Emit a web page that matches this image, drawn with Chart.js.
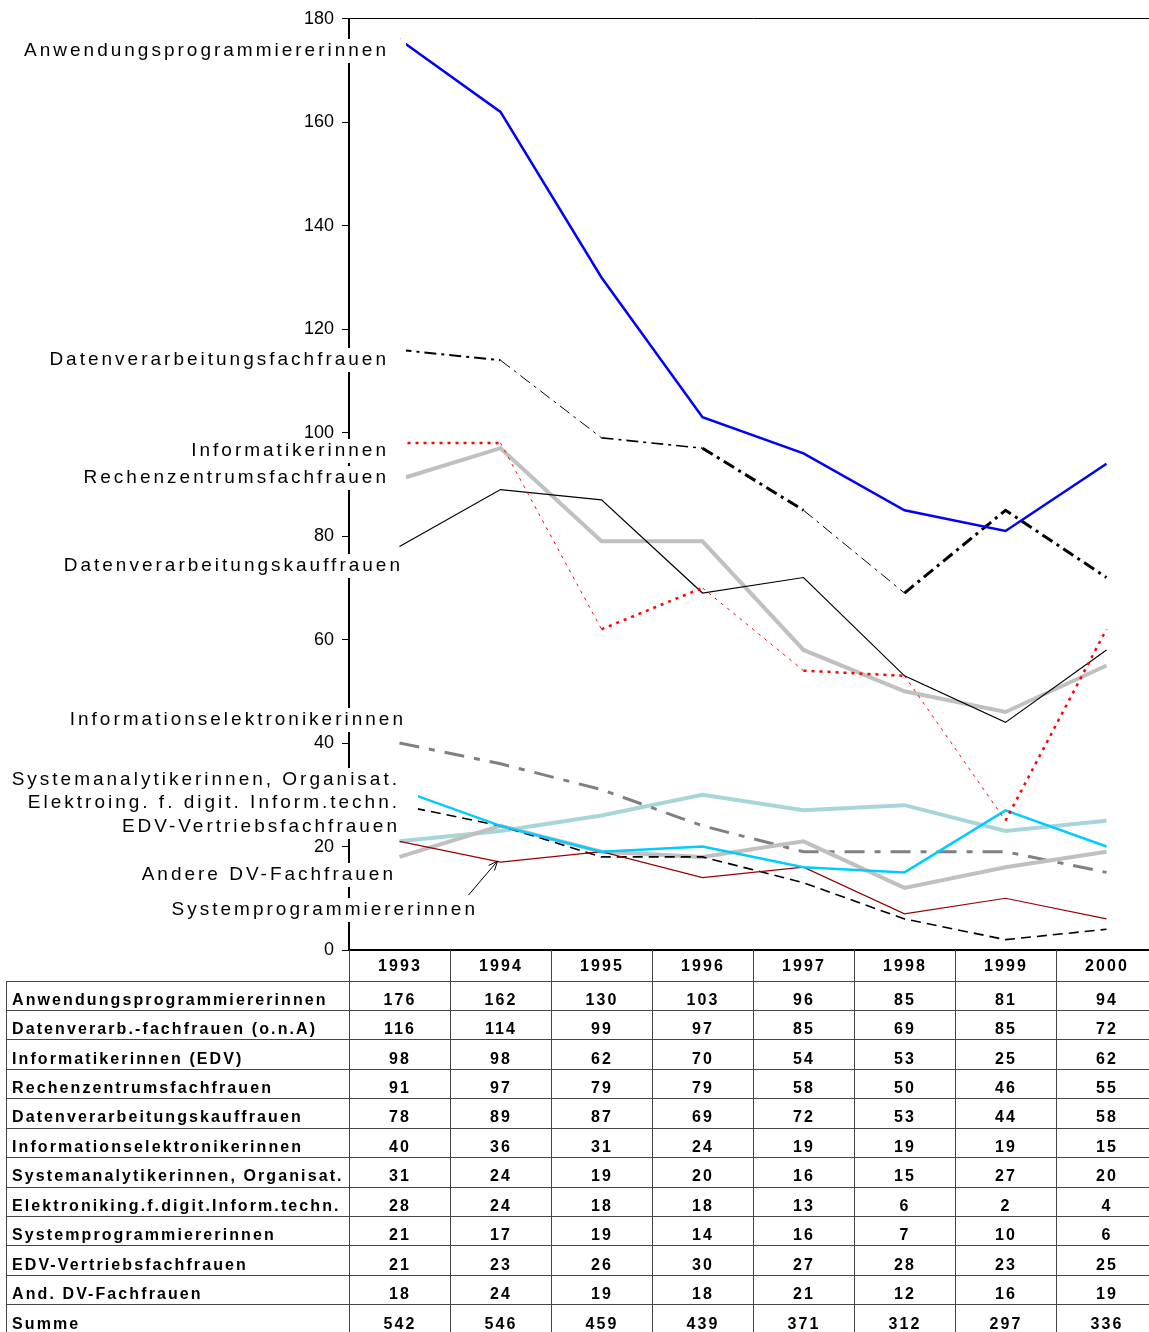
<!DOCTYPE html>
<html lang="de">
<head>
<meta charset="utf-8">
<title>DV-Berufe: Frauen 1993-2000</title>
<script src="https://cdn.jsdelivr.net/npm/chart.js@4.4.1/dist/chart.umd.min.js"></script>
<style>
html, body { margin: 0; padding: 0; background: #fff; width: 1149px; height: 1332px; overflow: hidden; }
#wrap { position: relative; width: 1149px; height: 1332px; overflow: hidden; }
#grafik { position: absolute; left: 0; top: 0; }
.kasten { position: absolute; background: #fff; z-index: 1; }
.text { position: absolute; z-index: 2; font-family: 'Liberation Sans', Arial, sans-serif; font-size: 19px; letter-spacing: 3px; line-height: 24px; white-space: nowrap; color: #000; text-align: right; }
#tabelle { position: absolute; left: 6px; top: 950px; z-index: 3; border-collapse: collapse; table-layout: fixed; width: 1151px;
  font-family: 'Liberation Sans', Arial, sans-serif; font-weight: bold; font-size: 16px; letter-spacing: 2.1px; color: #000; }
#tabelle td { border: 1px solid #444; padding: 8px 0 0 0; text-align: center; line-height: 20px; white-space: nowrap; }
#tabelle td.name { text-align: left; padding-left: 5px; }
#tabelle tr { height: 29.45px; }
#tabelle tr.kopf { height: 31px; }
#tabelle tr.kopf td { border-top: hidden; padding-top: 2px; }
#tabelle tr.kopf td.leer { border-left: hidden; }
</style>
</head>
<body>
<div id="wrap">
  <canvas id="grafik" width="1157" height="980"></canvas>
  <table id="tabelle"></table>
</div>
<script>
const jahre = ['1993', '1994', '1995', '1996', '1997', '1998', '1999', '2000'];

const anwendungsprog    = [176, 162, 130, 103, 96, 85, 81, 94];
const dvFachfrauen      = [116, 114, 99, 97, 85, 69, 85, 72];
const informatikerinnen = [98, 98, 62, 70, 54, 53, 25, 62];
const rechenzentrum     = [91, 97, 79, 79, 58, 50, 46, 55];
const dvKauffrauen      = [78, 89, 87, 69, 72, 53, 44, 58];
const infoElektronik    = [40, 36, 31, 24, 19, 19, 19, 15];
const systemanalytik    = [31, 24, 19, 20, 16, 15, 27, 20];
const elektroIng        = [28, 24, 18, 18, 13, 6, 2, 4];
const systemprog        = [21, 17, 19, 14, 16, 7, 10, 6];
const edvVertrieb       = [21, 23, 26, 30, 27, 28, 23, 25];
const andereDV          = [18, 24, 19, 18, 21, 12, 16, 19];
const summe             = [542, 546, 459, 439, 371, 312, 297, 336];

// Beschriftungen im Diagramm
const kurvenNamen = [
  'Anwendungsprogrammiererinnen',
  'Datenverarbeitungsfachfrauen',
  'Informatikerinnen',
  'Rechenzentrumsfachfrauen',
  'Datenverarbeitungskauffrauen',
  'Informationselektronikerinnen',
  'Systemanalytikerinnen, Organisat.',
  'Elektroing. f. digit. Inform.techn.',
  'Andere DV-Fachfrauen',
  'EDV-Vertriebsfachfrauen',
  'Systemprogrammiererinnen'
];

// Zeilen der Tabelle
const tabellenNamen = [
  'Anwendungsprogrammiererinnen',
  'Datenverarb.-fachfrauen (o.n.A)',
  'Informatikerinnen (EDV)',
  'Rechenzentrumsfachfrauen',
  'Datenverarbeitungskauffrauen',
  'Informationselektronikerinnen',
  'Systemanalytikerinnen, Organisat.',
  'Elektroniking.f.digit.Inform.techn.',
  'Systemprogrammiererinnen',
  'EDV-Vertriebsfachfrauen',
  'And. DV-Fachfrauen',
  'Summe'
];
const tabellenWerte = [anwendungsprog, dvFachfrauen, informatikerinnen, rechenzentrum, dvKauffrauen,
  infoElektronik, systemanalytik, elektroIng, systemprog, edvVertrieb, andereDV, summe];

// Kurven in Zeichenreihenfolge (erste liegt oben)
const kurven = [
  { name: kurvenNamen[0],  daten: anwendungsprog,    farbe: '#0000ff', breite: 2.5, strich: [] },
  { name: kurvenNamen[1],  daten: dvFachfrauen,      farbe: '#000000', breite: 2,   strich: [12, 5, 3, 5], seg: [2, 1, 1.6, 3, 1, 3, 3] },
  { name: kurvenNamen[2],  daten: informatikerinnen, farbe: '#ff0000', breite: 2,   strich: [3, 5], seg: [2.5, 1, 2.5, 1, 2.5, 1, 2.5] },
  { name: kurvenNamen[6],  daten: systemanalytik,    farbe: '#00ccff', breite: 2.5, strich: [] },
  { name: kurvenNamen[4],  daten: dvKauffrauen,      farbe: '#000000', breite: 1.2, strich: [] },
  { name: kurvenNamen[10], daten: systemprog,        farbe: '#990000', breite: 1.2, strich: [] },
  { name: kurvenNamen[7],  daten: elektroIng,        farbe: '#000000', breite: 1.6, strich: [10, 6] },
  { name: kurvenNamen[3],  daten: rechenzentrum,     farbe: '#c0c0c0', breite: 4,   strich: [] },
  { name: kurvenNamen[8],  daten: andereDV,          farbe: '#c0c0c0', breite: 4,   strich: [] },
  { name: kurvenNamen[5],  daten: infoElektronik,    farbe: '#808080', breite: 3,   strich: [20, 10, 6, 10] },
  { name: kurvenNamen[9],  daten: edvVertrieb,       farbe: '#a8d6d8', breite: 4,   strich: [] }
];

// Lage der Beschriftungen: Mitte (y), rechter Textrand, rechter Rand des weissen Kastens
const beschriftungLage = [
  [50, 386, 406], [359, 386, 406], [450, 386, 406], [477, 386, 406], [565, 400, 403],
  [719, 403, 406], [779, 397, 418], [802, 397, 418], [874, 393, 397], [826, 397, 400], [909, 475, 478]
];

const wrap = document.getElementById('wrap');
kurvenNamen.forEach((n, i) => {
  const [mitte, textRechts, kastenRechts] = beschriftungLage[i];
  const t = document.createElement('div');
  t.className = 'text';
  t.textContent = n;
  t.style.top = (mitte - 12) + 'px';
  t.style.right = (1149 - textRechts - 3) + 'px';
  wrap.appendChild(t);
  const k = document.createElement('div');
  k.className = 'kasten';
  wrap.appendChild(k);
  const links = textRechts + 3 - t.offsetWidth - 4;
  k.style.top = (mitte - 11) + 'px';
  k.style.height = '24px';
  k.style.left = links + 'px';
  k.style.width = (kastenRechts - links) + 'px';
});

// Tabelle
let zeilen = '<colgroup><col style="width:343px">' + jahre.map(() => '<col style="width:101px">').join('') + '</colgroup>';
zeilen += '<tr class="kopf"><td class="leer"></td>' + jahre.map(j => `<td>${j}</td>`).join('') + '</tr>';
tabellenNamen.forEach((n, i) => {
  zeilen += `<tr><td class="name">${n}</td>` + tabellenWerte[i].map(v => `<td>${v}</td>`).join('') + '</tr>';
});
document.getElementById('tabelle').innerHTML = zeilen;

const pfeil = {
  id: 'pfeil',
  afterDatasetsDraw(chart) {
    const idx = kurven.findIndex(k => k.name === 'Systemprogrammiererinnen');
    const p = chart.getDatasetMeta(idx).data[1];
    const ctx = chart.ctx;
    const sx = p.x - 3, sy = p.y - 1;
    const ax = sx - 29, ay = sy + 34;
    const winkel = Math.atan2(sy - ay, sx - ax);
    ctx.save();
    ctx.strokeStyle = '#000';
    ctx.lineWidth = 1;
    ctx.beginPath();
    ctx.moveTo(ax, ay);
    ctx.lineTo(sx, sy);
    ctx.moveTo(sx - 10 * Math.cos(winkel - 0.4), sy - 10 * Math.sin(winkel - 0.4));
    ctx.lineTo(sx, sy);
    ctx.lineTo(sx - 10 * Math.cos(winkel + 0.4), sy - 10 * Math.sin(winkel + 0.4));
    ctx.stroke();
    ctx.restore();
  }
};

new Chart(document.getElementById('grafik'), {
  type: 'line',
  data: {
    labels: jahre,
    datasets: kurven.map(k => ({
      label: k.name,
      data: k.daten,
      borderColor: k.farbe,
      borderWidth: k.breite,
      borderDash: k.strich,
      segment: { borderWidth: c => (k.seg ? k.seg[c.p0DataIndex] : undefined) },
      pointRadius: 0,
      tension: 0,
      fill: false
    }))
  },
  options: {
    responsive: false,
    animation: false,
    layout: { padding: { top: 18, left: 0, right: 0, bottom: 0 } },
    plugins: { legend: { display: false }, tooltip: { enabled: false } },
    scales: {
      x: {
        type: 'category',
        offset: true,
        ticks: { display: false },
        grid: { display: false },
        border: { display: true, color: '#000', width: 2 },
        afterFit: s => { s.height = 30; }
      },
      x2: {
        type: 'category',
        position: 'top',
        labels: jahre,
        offset: true,
        ticks: { display: false },
        grid: { display: false },
        border: { display: true, color: '#000', width: 1 },
        afterFit: s => { s.height = 0; }
      },
      y: {
        min: 0,
        max: 180,
        ticks: { stepSize: 20, color: '#000', padding: 8, font: { family: 'Liberation Sans', size: 18 } },
        grid: { drawOnChartArea: false, drawTicks: true, tickLength: 7, color: '#000', lineWidth: 1 },
        border: { display: true, color: '#000', width: 2 },
        afterFit: s => { s.width = 349; }
      }
    }
  },
  plugins: [pfeil]
});
</script>
</body>
</html>
